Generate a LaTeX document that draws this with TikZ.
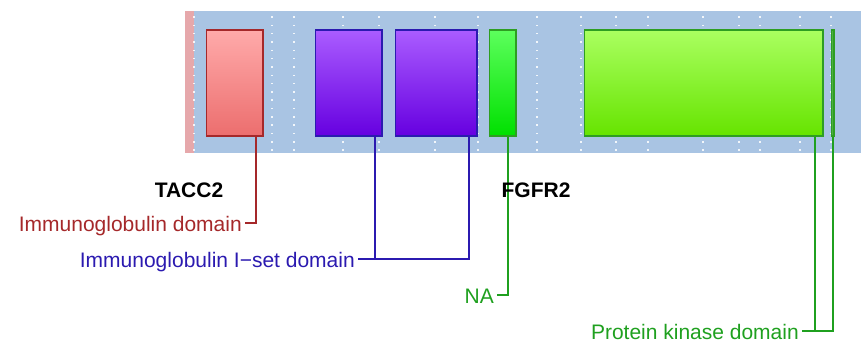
\documentclass[tikz,border=0pt]{standalone}
\usepackage{fontspec}
\setmainfont{Liberation Sans}
\usetikzlibrary{positioning}
\definecolor{bandc}{RGB}{169,196,227}
\definecolor{stripc}{RGB}{230,168,171}
\definecolor{igc}{RGB}{165,40,42}
\definecolor{isc}{RGB}{43,26,176}
\definecolor{nac}{RGB}{31,160,31}
\definecolor{igt}{RGB}{255,170,170}
\definecolor{igb}{RGB}{236,110,110}
\definecolor{ist}{RGB}{170,92,255}
\definecolor{isb}{RGB}{102,0,224}
\definecolor{nat}{RGB}{92,255,92}
\definecolor{nab}{RGB}{0,224,0}
\definecolor{pkt}{RGB}{170,255,96}
\definecolor{pkb}{RGB}{102,228,0}
\definecolor{pkd}{RGB}{46,158,34}
\begin{document}
\begin{tikzpicture}[x=1pt,y=-1pt,
  dom/.style={draw,line width=1.6pt,inner sep=0pt,anchor=north west,minimum height=105.4pt},
  lab/.style={font=\fontsize{21}{25}\selectfont,anchor=east,inner xsep=3pt,inner ysep=0pt,text height=16pt,text depth=0pt},
  gene/.style={font=\fontsize{21}{25}\selectfont\bfseries,anchor=base},
  link/.style={line width=1.6pt}]
  \useasboundingbox (0,0) rectangle (861,342);
  % track
  \fill[bandc] (185,11) rectangle (861,153);
  \fill[stripc] (185,11) rectangle (193.5,153);
  \foreach \x in {194,272,294,343,379,435,478,537,581,616,648,703,739,760,800,831}
    \foreach \i in {0,...,16}
      \fill[white,opacity=.85] (\x-.8,17+\i*8.33-.8) rectangle ++(1.6,1.6);
  % domains
  \node[dom,draw=igc,top color=igt,bottom color=igb,minimum width=56.4pt] (ig) at (205.8,29.5) {};
  \node[dom,draw=isc,top color=ist,bottom color=isb,minimum width=66.4pt] (isA) at (314.8,29.5) {};
  \node[dom,draw=isc,top color=ist,bottom color=isb,minimum width=81.4pt] (isB) at (394.8,29.5) {};
  \node[dom,draw=pkd,top color=nat,bottom color=nab,minimum width=26.4pt] (na) at (488.8,29.5) {};
  \node[dom,draw=pkd,top color=pkt,bottom color=pkb,minimum width=238.4pt] (pkA) at (583.8,29.5) {};
  \node[dom,draw=pkd,fill=pkd!85!white,minimum width=2.4pt] (pkB) at (830.8,29.5) {};
  % labels
  \node[lab,text=igc] (iglab) at (245,223) {Immunoglobulin domain};
  \node[lab,text=isc] (islab) at (358,259) {Immunoglobulin I−set domain};
  \node[lab,text=nac] (nalab) at (497,295) {NA};
  \node[lab,text=nac] (pklab) at (802,331) {Protein kinase domain};
  \draw[link,igc] (ig.south west) ++(50.2,0) |- (iglab.east);
  \draw[link,isc] (isA.south west) ++(60.2,0) |- (islab.east);
  \draw[link,isc] (isB.south west) ++(74.2,0) |- (islab.east);
  \draw[link,nac] (na.south west) ++(19.2,0) |- (nalab.east);
  \draw[link,nac] (pkA.south west) ++(231.2,0) |- (pklab.east);
  \draw[link,nac] (pkB.south) |- (pklab.east);
  \node[gene] (tacc) at (189,197) {TACC2};
  \node[gene] (fgfr) at (536,197) {FGFR2};
\end{tikzpicture}
\end{document}
